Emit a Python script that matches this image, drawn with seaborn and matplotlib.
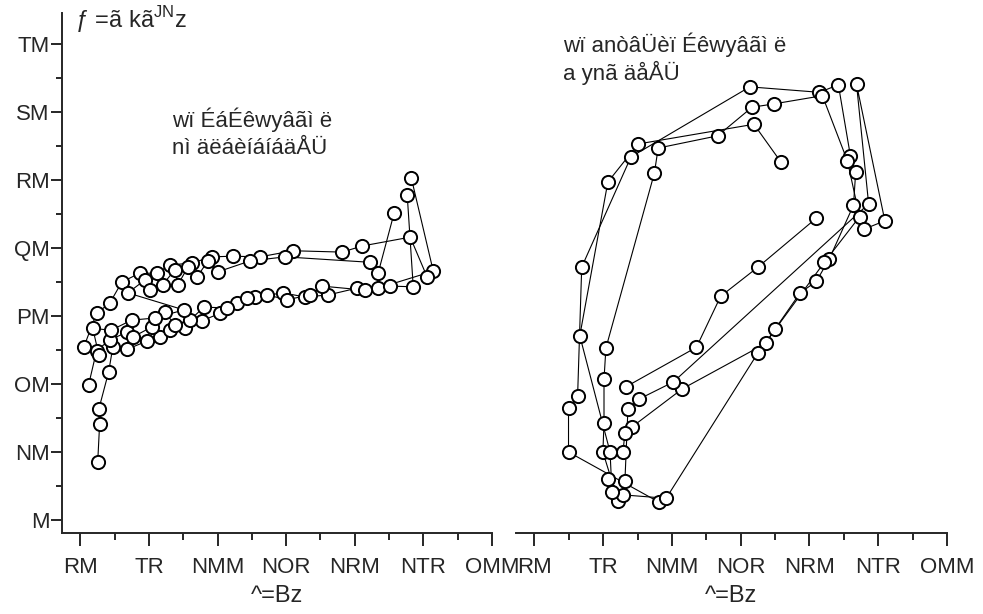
import numpy as np
import pandas as pd
import seaborn as sns
import matplotlib
matplotlib.use("Agg")
import matplotlib.pyplot as plt
from matplotlib.ticker import MultipleLocator

# ---- left panel trials (x, y) ----
s1_x = [56.3, 57.0, 56.7, 60.3, 61.8, 66.9, 74.2, 78.9, 82.6, 88.1, 94.3, 100.9, 107.0,
        113.6, 123.8, 131.9, 140.3, 150.8, 158.5, 178.6, 170.6]
s1_y = [8.5, 14.1, 16.3, 21.8, 25.4, 25.1, 26.3, 26.9, 27.9, 28.2, 29.3, 30.4, 31.9,
        32.8, 33.4, 32.8, 33.1, 34.1, 34.1, 36.6, 50.3]

s2_x = [53.0, 55.9, 60.7, 66.9, 69.1, 76.0, 80.8, 84.4, 89.9, 95.0, 103.4, 110.7, 118.0,
        125.3, 133.7, 138.1, 153.8, 162.9, 171.3, 169.1]
s2_y = [19.9, 24.9, 26.5, 27.6, 26.9, 28.4, 30.6, 28.7, 29.4, 31.3, 31.2, 32.6, 33.1,
        32.4, 33.1, 34.4, 33.8, 34.4, 34.3, 47.8]

s3_x = [51.2, 55.9, 60.7, 65.1, 71.6, 77.8, 82.6, 90.6, 97.9, 105.6, 115.4, 127.5, 145.4,
        152.7, 170.2, 176.4]
s3_y = [25.4, 30.4, 31.9, 35.0, 36.3, 36.3, 37.5, 37.8, 38.7, 38.8, 38.7, 39.6, 39.4,
        40.3, 41.6, 35.7]

s4_x = [56.7, 54.5, 61.1, 68.7, 77.1, 87.7, 67.3, 73.5, 75.3, 80.0, 84.4, 85.5, 89.2, 92.4,
        96.5, 100.1, 111.8, 124.6, 155.6, 158.5, 164.3]
s4_y = [24.3, 28.2, 27.9, 29.4, 29.7, 30.9, 33.4, 35.3, 33.8, 34.6, 36.8, 34.6, 37.2, 35.7,
        38.1, 36.5, 38.1, 38.7, 37.9, 36.3, 45.1]

# ---- right panel trials (x, y) ----
r1_x = [83.3, 108.9, 117.7, 131.3, 152.5]
r1_y = [19.6, 25.4, 32.9, 37.2, 44.4]

r2_x = [95.4, 62.4, 62.4, 65.7, 67.2, 85.1, 128.3, 153.6, 160.5, 164.9, 166.8, 166.0,
        157.2, 152.5, 146.6, 137.5, 134.2, 103.8, 85.5, 82.9, 82.2]
r2_y = [2.6, 10.0, 16.5, 18.2, 37.2, 53.4, 63.7, 62.9, 64.0, 53.5, 51.2, 46.3,
        38.4, 35.1, 33.4, 28.1, 26.0, 19.3, 13.7, 12.8, 10.0]

r3_x = [80.4, 74.9, 75.3, 75.3, 76.0, 93.6, 95.0, 116.6, 129.1, 137.1, 154.7, 163.8, 168.2,
        155.4, 131.3, 97.9, 82.2, 76.7]
r3_y = [2.8, 10.0, 14.3, 20.7, 25.3, 51.0, 54.7, 56.5, 60.7, 61.2, 62.4, 52.8, 44.6,
        37.9, 24.6, 3.2, 3.7, 6.0]

r4_x = [78.2, 77.5, 66.5, 76.7, 87.7, 129.8, 139.7]
r4_y = [4.1, 10.0, 27.1, 49.7, 55.3, 58.2, 52.6]

r5_x = [82.9, 84.0, 88.1, 100.5, 171.5, 167.1, 177.4, 170.0]
r5_y = [5.7, 16.3, 17.8, 20.3, 46.5, 64.1, 44.0, 42.8]

x_ticks = [50, 75, 100, 125, 150, 175, 200]
x_tick_labels = ["RM", "TR", "NMM", "NOR", "NRM", "NTR", "OMM"]
y_ticks = [0, 10, 20, 30, 40, 50, 60, 70]
y_tick_labels = ["M", "NM", "OM", "PM", "QM", "RM", "SM", "TM"]

x_label = "^=Bz"
y_label = "ƒ =ã kã$^{\\mathregular{JN}}$z"
left_note = ["wï ÉáÉêwyâãì ë", "nì äëáèíáíáäÅÜ"]
right_note = ["wï anòâÜèï Éêwyâãì ë", "a ynã äåÅÜ"]

frames = []
for panel, trials in (("left", [(s1_x, s1_y), (s2_x, s2_y), (s3_x, s3_y), (s4_x, s4_y)]),
                      ("right", [(r1_x, r1_y), (r2_x, r2_y), (r3_x, r3_y),
                                 (r4_x, r4_y), (r5_x, r5_y)])):
    for i, (xs, ys) in enumerate(trials):
        frames.append(pd.DataFrame({"panel": panel, "trial": f"{panel}{i}",
                                    "x": xs, "y": ys}))
df = pd.concat(frames, ignore_index=True)

sns.set_style("ticks")
plt.rcParams["font.family"] = ["Liberation Sans", "DejaVu Sans"]
plt.rcParams["axes.linewidth"] = 1.4

TICK_FS = 16
fig = plt.figure(figsize=(9.83, 6.14), dpi=100)
ax_l = fig.add_axes([0.0631, 0.1319, 0.4374, 0.8469])
ax_r = fig.add_axes([0.5249, 0.1319, 0.4385, 0.8469])

for ax, panel in ((ax_l, "left"), (ax_r, "right")):
    sub = df[df["panel"] == panel]
    sns.lineplot(data=sub, x="x", y="y", units="trial", estimator=None, sort=False,
                 color="black", linewidth=0.8, ax=ax, zorder=1, legend=False)
    sns.scatterplot(data=sub, x="x", y="y", s=90, facecolor="white",
                    edgecolor="black", linewidth=1.4, ax=ax, zorder=3, legend=False)
    ax.set_xlim(43.3, 200)
    ax.set_ylim(-1.91, 74.56)
    ax.set_xticks(x_ticks)
    ax.set_xticklabels(x_tick_labels, fontsize=TICK_FS)
    ax.xaxis.set_minor_locator(MultipleLocator(12.5))
    ax.set_xlabel(x_label, fontsize=17, labelpad=5)
    ax.set_ylabel("")
    ax.tick_params(axis="x", which="major", direction="out", length=9, width=1.4, pad=8)
    ax.tick_params(axis="x", which="minor", direction="out", length=5, width=1.4)
    for side in ("top", "right"):
        ax.spines[side].set_visible(False)
    ax.patch.set_alpha(0)

ax_l.set_yticks(y_ticks)
ax_l.set_yticklabels(y_tick_labels, fontsize=TICK_FS)
ax_l.yaxis.set_minor_locator(MultipleLocator(5))
ax_l.tick_params(axis="y", which="major", direction="out", length=8, width=1.4, pad=1)
ax_l.tick_params(axis="y", which="minor", direction="out", length=4, width=1.4)

ax_r.spines["left"].set_visible(False)
ax_r.set_yticks([])
ax_r.tick_params(axis="y", which="both", left=False)

fig.text(75 / 983, 1 - 20 / 614, y_label, fontsize=17, va="center", ha="left")
fig.text(172 / 983, 1 - 120 / 614, left_note[0], fontsize=16, va="center", ha="left")
fig.text(172 / 983, 1 - 148 / 614, left_note[1], fontsize=16, va="center", ha="left")
fig.text(563 / 983, 1 - 45 / 614, right_note[0], fontsize=16, va="center", ha="left")
fig.text(563 / 983, 1 - 73 / 614, right_note[1], fontsize=16, va="center", ha="left")

fig.savefig("out.png", dpi=100)
